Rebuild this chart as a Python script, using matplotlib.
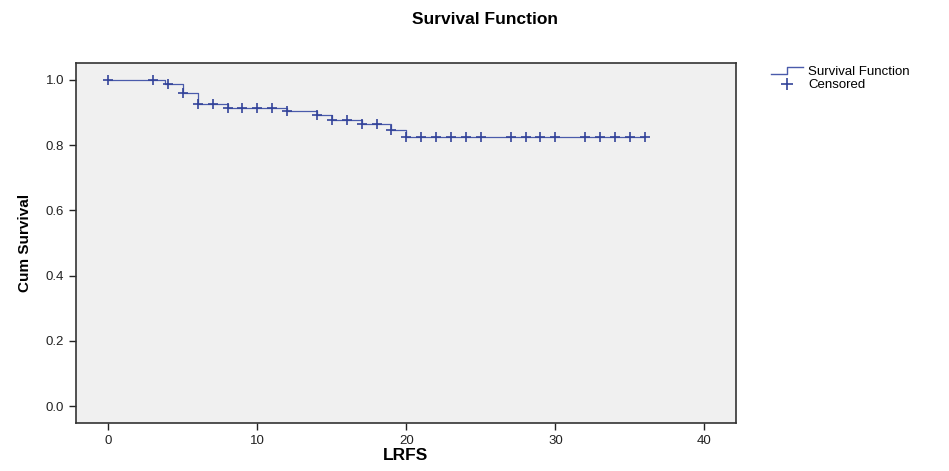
import numpy as np
import matplotlib
matplotlib.use('Agg')
import matplotlib.pyplot as plt
from matplotlib.lines import Line2D
from matplotlib.legend_handler import HandlerBase

plt.rcParams['font.family'] = ['Liberation Sans', 'DejaVu Sans']

# Kaplan-Meier steps (time of event, survival after the event)
event_times = [3.8, 5, 6, 8, 12, 14, 15, 17, 19, 20]
surv_after = [0.988, 0.959, 0.927, 0.915, 0.904, 0.893, 0.877, 0.864, 0.847, 0.826]
end_time = 36

# censored observations
censor_times = [0, 3, 4, 5, 6, 7, 8, 9, 10, 11, 12, 14, 15, 16, 17, 18, 19, 20,
                21, 22, 23, 24, 25, 27, 28, 29, 30, 32, 33, 34, 35, 36]

x_ticks = [0, 10, 20, 30, 40]
y_ticks = [0.0, 0.2, 0.4, 0.6, 0.8, 1.0]

line_col = '#4a5bab'
mark_col = '#34449a'

# step curve
xs = np.array([0] + event_times + [end_time])
ys = np.array([1.0] + surv_after + [surv_after[-1]])

def surv_at(t):
    i = np.searchsorted(event_times, t, side='right')
    return 1.0 if i == 0 else surv_after[i - 1]

censor_y = [surv_at(t) for t in censor_times]


class StepHandler(HandlerBase):
    # legend key drawn as a little step, like SPSS does
    def create_artists(self, legend, orig_handle, xdescent, ydescent,
                       width, height, fontsize, trans):
        x0 = -xdescent
        y0 = -ydescent
        px = [x0, x0 + width * 0.5, x0 + width * 0.5, x0 + width]
        py = [y0 + height * 0.1, y0 + height * 0.1, y0 + height * 0.9, y0 + height * 0.9]
        ln = Line2D(px, py, color=line_col, lw=1.0, transform=trans)
        return [ln]


fig = plt.figure(figsize=(9.49, 4.71), dpi=100)
ax = fig.add_axes([0.0801, 0.1019, 0.6951, 0.765])
ax.set_facecolor('#f0f0f0')

ax.step(xs, ys, where='post', color=line_col, lw=0.9)
ax.plot(censor_times, censor_y, ls='none', marker='+', ms=7, mew=1.2, color=mark_col)

ax.set_xlim(-2.17, 42.1)
ax.set_ylim(-0.052, 1.053)
ax.set_xticks(x_ticks)
ax.set_yticks(y_ticks)
ax.set_yticklabels(['%.1f' % v for v in y_ticks])
ax.tick_params(direction='out', length=5, width=1, color='#222222',
               labelsize=9.5, labelcolor='#222222')
for s in ax.spines.values():
    s.set_color('#333333')
    s.set_linewidth(1.2)

ax.set_xlabel('LRFS', fontsize=12.5, fontweight='bold', labelpad=1)
ax.set_ylabel('Cum Survival', fontsize=11, fontweight='bold', labelpad=10,
              family=['Liberation Sans Narrow', 'Liberation Sans', 'DejaVu Sans'])

fig.text(0.511, 0.958, 'Survival Function', ha='center', va='center',
         fontsize=12.5, fontweight='bold')

h1 = Line2D([], [], color=line_col, lw=1.0)
h2 = Line2D([], [], ls='none', marker='+', ms=8, mew=1.2, color=mark_col)
leg = fig.legend([h1, h2], ['Survival Function', 'Censored'],
                 loc='upper left', bbox_to_anchor=(0.800, 0.885),
                 frameon=False, fontsize=9.5, handlelength=2.4,
                 handletextpad=0.4, labelspacing=0.05,
                 handler_map={h1: StepHandler()})

fig.savefig('out.png', dpi=100)
